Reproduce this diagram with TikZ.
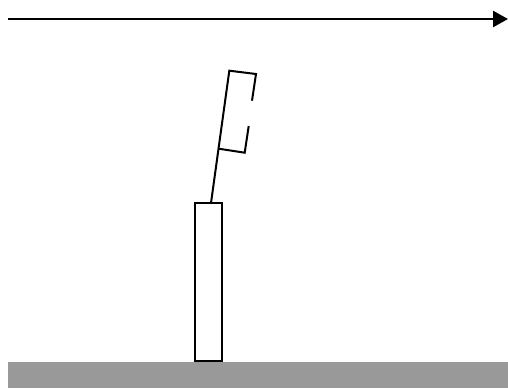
\documentclass[tikz,border=0pt]{standalone}
\usetikzlibrary{arrows.meta}
\begin{document}
\begin{tikzpicture}[x=1pt,y=-1pt,
  outline/.style={draw=black,line width=2pt},
  groundfill/.style={fill=black!40,draw=none}]
\useasboundingbox (0,0) rectangle (508,388);
% direction arrow
\coordinate (a1) at (8,19);
\coordinate (a2) at (508,19);
\draw[line width=2.6pt,-{Triangle[length=15pt,width=16pt]}] (a1) -- (a2);
% ground
\node[groundfill,minimum width=500pt,minimum height=26pt,inner sep=0pt,anchor=north west] (ground) at (8,362) {};
% pole
\node[outline,fill=white,minimum width=27pt,minimum height=158pt,inner sep=0pt,anchor=south west] (pole) at (193.5,362) {};
% stick and flag
\coordinate (stickbase) at (211,203);
\coordinate (ftl) at (229.3,70.7);
\coordinate (ftr) at (256,74);
\coordinate (fr1) at (252,100.7);
\coordinate (fr2) at (248.7,126);
\coordinate (fbr) at (244.7,152.7);
\coordinate (fbl) at (218.7,148.7);
\draw[outline,line cap=butt] (stickbase) -- (ftl) -- (ftr) -- (fr1);
\draw[outline] (fr2) -- (fbr) -- (fbl);
\end{tikzpicture}
\end{document}
